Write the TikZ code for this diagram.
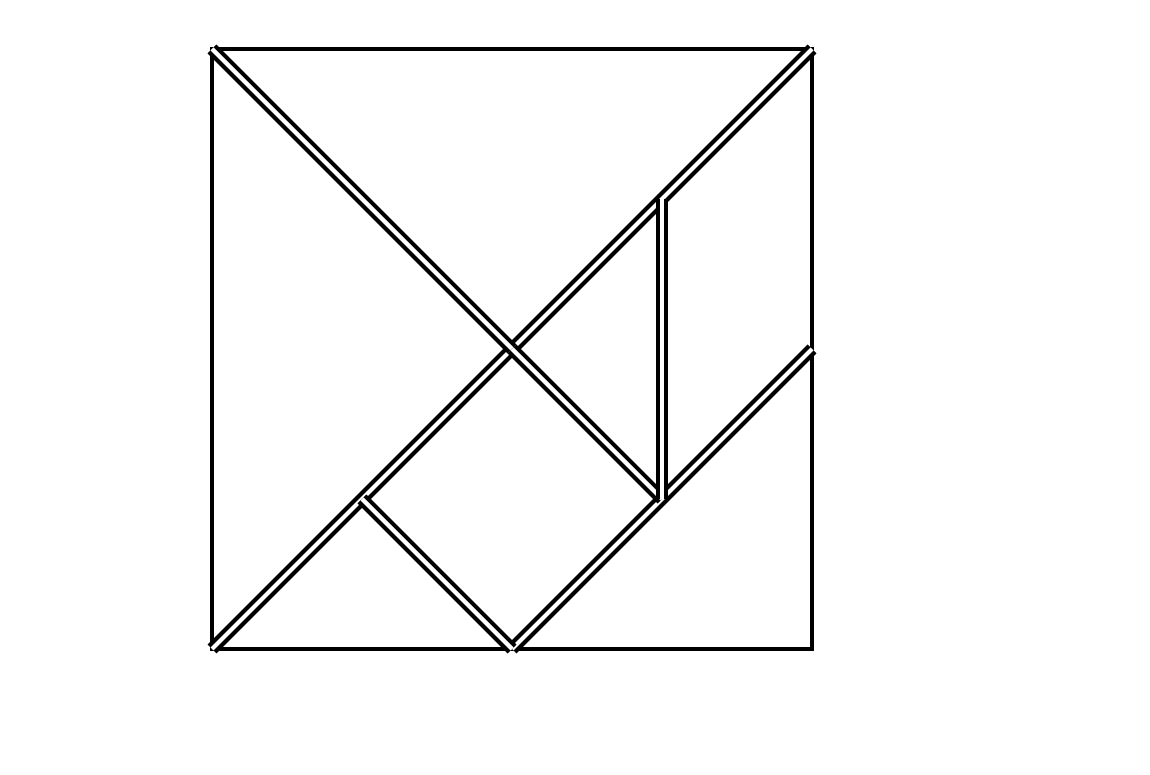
\documentclass[tikz,border=0pt]{standalone}
\usepackage{tikz}
\usetikzlibrary{positioning}

\begin{document}
\begin{tikzpicture}[
			% GLOBAL CFG
			x=1cm, y=1cm,
			% Styles
			frame/.style={% For the outer square
				draw=black,
				line width=1pt,
			},
			cut/.style={% For the edges between two pieces
				draw=black,
				line width=1.2pt,
				double=white,
				double distance=1.2pt,
			},
			]
			% Fix the page size
			\useasboundingbox (0,0) rectangle (11.5,7.75);
			
			% Corners of the square
			\coordinate (tl) at (2.12,7.26);
			\coordinate (tr) at (8.12,7.26);
			\coordinate (bl) at (2.12,1.26);
			\coordinate (br) at (8.12,1.26);
			
			% Inner points of the pieces
			\coordinate (c) at (5.12,4.26);
			\coordinate (p) at (6.62,5.76);
			\coordinate (q) at (6.62,2.76);
			\coordinate (r) at (8.12,4.26);
			\coordinate (m) at (5.12,1.26);
			\coordinate (s) at (3.62,2.76);
			
			% Draw the square
			\draw [frame] (tl) -- (tr) -- (br) -- (bl) -- cycle;
			
			% Drawing the cuts
			\draw [cut] (r) -- (m);
			\draw [cut] (tr) -- (c);
			\draw [cut] (bl) -- (c);
			\draw [cut] (tl) -- (c);
			\draw [cut] (c) -- (q);
			\draw [cut] (p) -- (q);
			\draw [cut] (s) -- (m);
			
		\end{tikzpicture}
\end{document}
